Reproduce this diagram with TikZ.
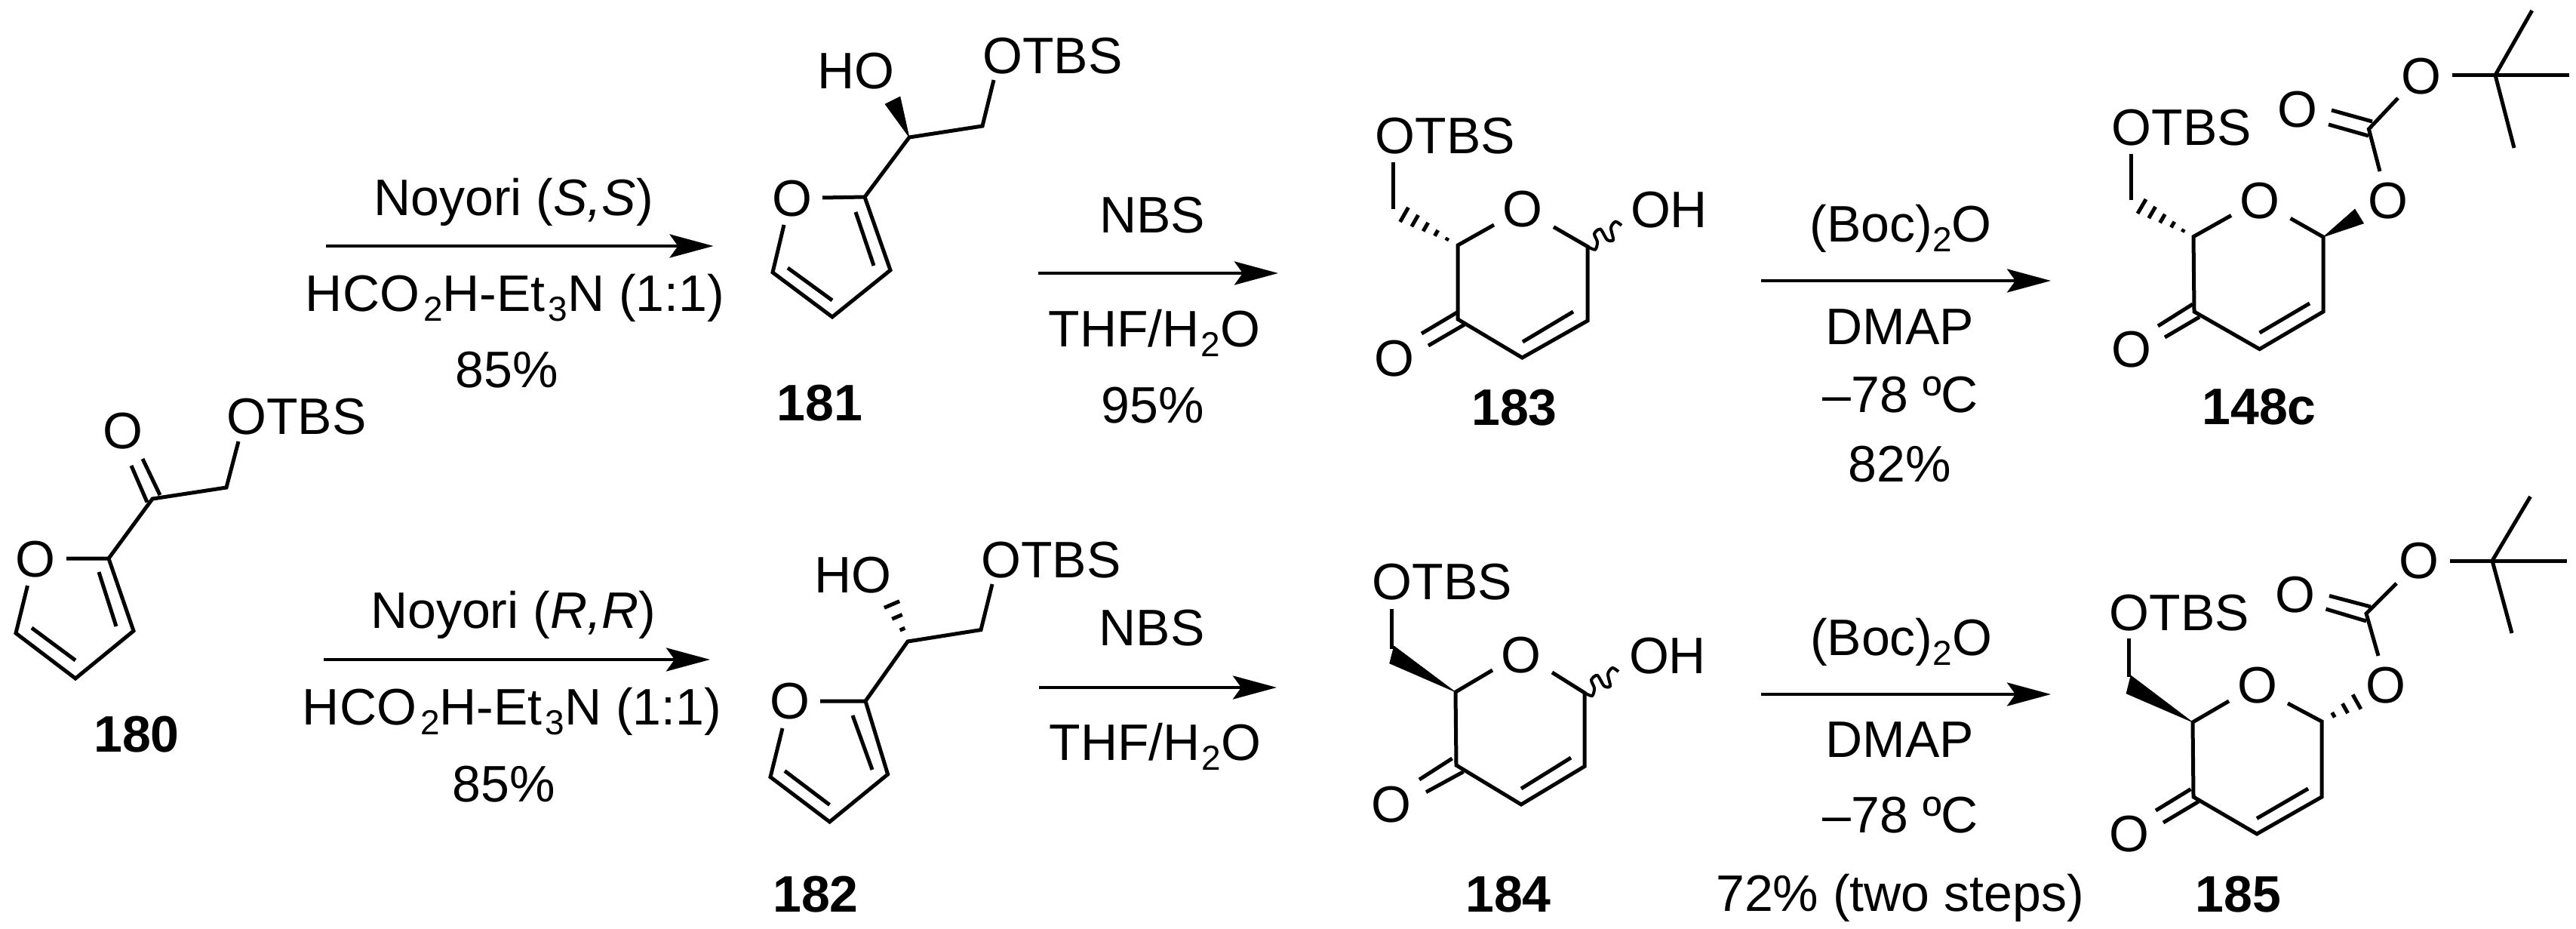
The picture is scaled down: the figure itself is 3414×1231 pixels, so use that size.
\documentclass[tikz,border=0pt]{standalone}
\usepackage{fontspec}
\setmainfont{Liberation Sans}
\usetikzlibrary{arrows.meta,calc}
\newcommand{\lowsub}[1]{\raisebox{-13pt}{\fontsize{46}{46}\selectfont #1}}
\newcommand{\hashbond}[4]{%
  \foreach \i in {1,...,#4}{%
    \pgfmathsetmacro\hf{\i/#4}\pgfmathsetmacro\hw{#3*\hf}%
    \coordinate (hp) at ($(#1)!\hf!(#2)$);
    \draw[bond] ($(hp)!\hw pt!90:(#1)$) -- ($(hp)!\hw pt!-90:(#1)$);
  }}
\newcommand{\wavybond}[1]{%
  \draw[wavy,shift={(#1)}] plot[smooth] coordinates {(0,0)(10,4)(13,-6)(9,-17)(17,-23)(26,-9)(34,-9)(31,-25)(37,-33)(45,-28)};}
\tikzset{
  bond/.style={line width=5pt},
  wavy/.style={line width=4pt},
  wedgebond/.style={fill=black,draw=black,line width=.5pt},
  rxn/.style={line width=4.5pt,-{Stealth[length=58pt,width=31pt,inset=11pt]}},
  txt/.style={anchor=base,inner sep=0pt,font=\fontsize{68}{80}\selectfont},
  atom/.style={anchor=center,inner sep=0pt,font=\fontsize{68}{80}\selectfont},
  cpd/.style={anchor=base,inner sep=0pt,font=\fontsize{68}{80}\selectfont\bfseries},
}
\begin{document}
\begin{tikzpicture}[x=1pt,y=-1pt]
\useasboundingbox (0,0) rectangle (3414,1231);
\fill[white] (0,0) rectangle (3414,1231);
% --- 180
\foreach \n/\x/\y in {a2/144/740,a3/177/836,a4/100/899,a5/21/839,aOs/36.5/776,aOe/88/740,ai1/131/758,ai2/154/830,ai3/42/832,ai4/100/875,aC/202/661,ao1/174/617,ao2/195/665.5,ao3/189/608,ao4/212/656,aM/300/646,aOT/316/585}
  \coordinate (\n) at (\x,\y);
\draw[bond] (aOe)--(a2)--(a3)--(a4)--(a5)--(aOs);
\draw[bond] (ai1)--(ai2); \draw[bond] (ai3)--(ai4);
\draw[bond] (a2)--(aC)--(aM)--(aOT);
\draw[bond] (ao1)--(ao2); \draw[bond] (ao3)--(ao4);
\node[atom] (t180a) at (47,741) {O};
\node[atom] (t180b) at (163,571) {O};
\node[txt] (t180c) at (393,575.5) {OTBS};
\node[cpd] (l180) at (181,996.5) {180};
% --- 181
\foreach \n/\x/\y in {b2/1146/261,b3/1180/358,b4/1103/420,b5/1024/361,bOs/1039/298,bOe/1090/262,bi1/1134/281,bi2/1158/352,bi3/1044/355,bi4/1103/398,bC/1205/182,bM/1302/167,bOT/1317/106,bW1/1173/138,bW2/1193/128}
  \coordinate (\n) at (\x,\y);
\draw[bond] (bOe)--(b2)--(b3)--(b4)--(b5)--(bOs);
\draw[bond] (bi1)--(bi2); \draw[bond] (bi3)--(bi4);
\draw[bond] (b2)--(bC)--(bM)--(bOT);
\fill[wedgebond] (bC)--(bW1)--(bW2)--cycle;
\node[atom] (t181a) at (1049.5,263) {O};
\node[txt] (t181b) at (1134.5,117.5) {HO};
\node[txt] (t181c) at (1395,97) {OTBS};
\node[cpd] (l181) at (1086.5,557) {181};
% --- 182
\foreach \n/\x/\y in {c2/1147/929,c3/1176.6/1026,c4/1099.5/1089,c5/1021/1029.6,cOs/1037/965,cOe/1087/929,ci1/1130/948,ci2/1156/1020,ci3/1040/1021.5,ci4/1099.5/1066.5,cC/1203/850,cM/1300/834.6,cOT/1315/774,cH/1182/801}
  \coordinate (\n) at (\x,\y);
\draw[bond] (cOe)--(c2)--(c3)--(c4)--(c5)--(cOs);
\draw[bond] (ci1)--(ci2); \draw[bond] (ci3)--(ci4);
\draw[bond] (c2)--(cC)--(cM)--(cOT);
\hashbond{cC}{cH}{11}{3}
\node[atom] (t182a) at (1047,929.5) {O};
\node[txt] (t182b) at (1130.5,785.4) {HO};
\node[txt] (t182c) at (1393,765.4) {OTBS};
\node[cpd] (l182) at (1081,1208) {182};
% --- 183
\foreach \n/\x/\y in {d1/1932/325,dOl/1980/298,dOr/2059/300.7,d5/2104/326.7,d4/2104/425,d3/2017.4/474,d2/1932/423,di1/2085/413,di2/2018/453,do1/1931/414,do2/1884/442,do3/1941/430,do4/1893/458,dH/1861/284.5,dM/1846.4/277,dOT/1846.4/215}
  \coordinate (\n) at (\x,\y);
\draw[bond] (dOl)--(d1)--(d2)--(d3)--(d4)--(d5)--(dOr);
\draw[bond] (di1)--(di2); \draw[bond] (do1)--(do2); \draw[bond] (do3)--(do4);
\draw[bond] (dOT)--(dM);
\hashbond{d1}{dH}{11}{5}
\wavybond{d5}
\node[atom] (t183a) at (2018,276.7) {O};
\node[atom] (t183b) at (1848,475) {O};
\node[txt] (t183c) at (1915.5,203) {OTBS};
\node[txt] (t183d) at (2212,301) {OH};
\node[cpd] (l183) at (2007,563) {183};
% --- 184
\foreach \n/\x/\y in {e1/1929/917,eOl/1978/888,eOr/2057/891,e5/2100/918,e4/2100/1015.5,e3/2016/1066,e2/1930/1014,ei1/2082/1004,ei2/2016/1045,eo1/1924.6/1005,eo2/1881/1033,eo3/1939.5/1022.6,eo4/1890/1049.6,eOT/1844/806.5,eM/1844/860,eW1/1847.5/856,eW2/1841.6/879}
  \coordinate (\n) at (\x,\y);
\draw[bond] (eOl)--(e1)--(e2)--(e3)--(e4)--(e5)--(eOr);
\draw[bond] (ei1)--(ei2); \draw[bond] (eo1)--(eo2); \draw[bond] (eo3)--(eo4);
\draw[bond] (eOT)--(eM);
\fill[wedgebond] (e1)--(eW1)--(eW2)--cycle;
\wavybond{e5}
\node[atom] (t184a) at (2016,868) {O};
\node[atom] (t184b) at (1844,1066) {O};
\node[txt] (t184c) at (1911.5,794) {OTBS};
\node[txt] (t184d) at (2210,892) {OH};
\node[cpd] (l184) at (1999,1208) {184};
% --- 148c
\foreach \n/\x/\y in {f1/2907/313.6,fOl/2957/285.5,fOr/3035.6/289.4,f5/3079/314,f4/3079/413,f3/2994.6/462.6,f2/2908/413,fi1/3061/402,fi2/2994.6/441,fo1/2906/403,fo2/2860/432,fo3/2915/420,fo4/2869/447,fH/2838.5/273.5,fM/2824/265,fOT/2824/204,fW1/3121/277,fW2/3132.6/296,fC/3139.4/171,fOa/3154/227,fOb/3178/130,fOc/3250/99.6,ft/3307/99.6,ft1/3405/99.6,ft2/3355.7/14,ft3/3332/196,fd1/3144/161,fd2/3090/146,fd3/3139/180,fd4/3086/165}
  \coordinate (\n) at (\x,\y);
\draw[bond] (fOl)--(f1)--(f2)--(f3)--(f4)--(f5)--(fOr);
\draw[bond] (fi1)--(fi2); \draw[bond] (fo1)--(fo2); \draw[bond] (fo3)--(fo4);
\draw[bond] (fOT)--(fM);
\hashbond{f1}{fH}{11}{5}
\fill[wedgebond] (f5)--(fW1)--(fW2)--cycle;
\draw[bond] (fOa)--(fC)--(fOb);
\draw[bond] (fd1)--(fd2); \draw[bond] (fd3)--(fd4);
\draw[bond] (fOc)--(ft1); \draw[bond] (ft2)--(ft)--(ft3);
\node[atom] (t148a) at (2995,265.7) {O};
\node[atom] (t148b) at (3165.4,265.7) {O};
\node[atom] (t148c) at (3208.7,101) {O};
\node[atom] (t148d) at (3044.7,144.7) {O};
\node[atom] (t148e) at (2825,462.6) {O};
\node[txt] (t148f) at (2891.5,192.6) {OTBS};
\node[cpd] (l148) at (2994,562) {148c};
% --- 185
\foreach \n/\x/\y in {g1/2906/957,gOl/2954/929,gOr/3032/932,g5/3077/956,g4/3077/1056,g3/2991/1105,g2/2907/1056,gi1/3059/1045,gi2/2991/1084.5,go1/2903.5/1045.6,go2/2857/1074,go3/2914/1062,go4/2867/1090,gOT/2821/846,gM/2821/897,gW1/2824/895,gW2/2818/919,gH/3123.5/930,gC/3136/813,gOa/3152/869,gOb/3176/773,gOc/3246.5/743,gt/3303/743,gt1/3402/743,gt2/3353.5/658,gt3/3329/839,gd1/3142/804,gd2/3087/789.5,gd3/3136/823,gd4/3082.5/807}
  \coordinate (\n) at (\x,\y);
\draw[bond] (gOl)--(g1)--(g2)--(g3)--(g4)--(g5)--(gOr);
\draw[bond] (gi1)--(gi2); \draw[bond] (go1)--(go2); \draw[bond] (go3)--(go4);
\draw[bond] (gOT)--(gM);
\fill[wedgebond] (g1)--(gW1)--(gW2)--cycle;
\hashbond{g5}{gH}{11}{3}
\draw[bond] (gOa)--(gC)--(gOb);
\draw[bond] (gd1)--(gd2); \draw[bond] (gd3)--(gd4);
\draw[bond] (gOc)--(gt1); \draw[bond] (gt2)--(gt)--(gt3);
\node[atom] (t185a) at (2992,908) {O};
\node[atom] (t185b) at (3162,908) {O};
\node[atom] (t185c) at (3206,743.5) {O};
\node[atom] (t185d) at (3041.5,787.6) {O};
\node[atom] (t185e) at (2822,1105) {O};
\node[txt] (t185f) at (2888.5,835) {OTBS};
\node[cpd] (l185) at (2966.5,1208.5) {185};
% --- arrows
\foreach \n/\xa/\xb/\y in {r1/432/945.5/326,r2/429/941/874,r3/1376/1694/362,r4/1377/1692/911,r5/2334/2718/372,r6/2334/2718/920}{
  \coordinate (\n s) at (\xa,\y);
  \coordinate (\n e) at (\xb,\y);
  \draw[rxn] (\n s) -- (\n e);
}
% --- conditions
\node[txt] (c1a) at (680.6,285.7) {Noyori (\textit{S,S})};
\node[txt] (c1b) at (682.5,412) {HCO\kern5pt\lowsub{2}H-Et\kern4pt\lowsub{3}N (1:1)};
\node[txt] (c1c) at (671.6,513) {85\%};
\node[txt] (c2a) at (680,832) {Noyori (\textit{R,R})};
\node[txt] (c2b) at (678.5,960.6) {HCO\kern5pt\lowsub{2}H-Et\kern4pt\lowsub{3}N (1:1)};
\node[txt] (c2c) at (668,1062) {85\%};
\node[txt] (c3a) at (1527,308) {NBS};
\node[txt] (c3b) at (1530,459) {THF/H\kern2pt\lowsub{2}O};
\node[txt] (c3c) at (1527.6,560) {95\%};
\node[txt] (c4a) at (1526.5,855) {NBS};
\node[txt] (c4b) at (1531,1007) {THF/H\kern2pt\lowsub{2}O};
\node[txt] (c5a) at (2519,320.7) {(Boc)\lowsub{2}O};
\node[txt] (c5b) at (2518,456) {DMAP};
\node[txt] (c5c) at (2519,546) {–78 ºC};
\node[txt] (c5d) at (2518,638) {82\%};
\node[txt] (c6a) at (2519.5,868) {(Boc)\lowsub{2}O};
\node[txt] (c6b) at (2517.5,1003) {DMAP};
\node[txt] (c6c) at (2519,1103) {–78 ºC};
\node[txt] (c6d) at (2518,1207) {72\% (two steps)};
\end{tikzpicture}
\end{document}
